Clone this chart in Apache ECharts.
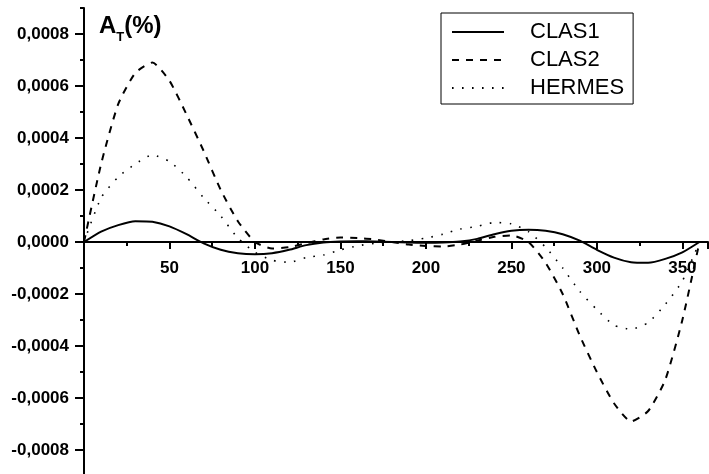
<!DOCTYPE html>
<html>
<head>
<meta charset="utf-8">
<script src="https://cdn.jsdelivr.net/npm/echarts@6/dist/echarts.min.js"></script>
<style>html,body{margin:0;padding:0;background:#fff}#c{width:709px;height:474px}</style>
</head>
<body>
<div id="c"></div>
<script>
var phi = [0,10,20,30,40,50,60,70,80,90,100,110,120,130,140,150,160,170,180,190,200,210,220,230,240,250,260,270,280,290,300,310,320,330,340,350,360];
var clas1 = [0,0.00004,0.000065,0.00008,0.000078,0.00006,0.00003,-0.000005,-0.00003,-0.000043,-0.000047,-0.000043,-0.00003,-0.000012,-0.000002,0.000002,0.000003,0.000002,0,-0.000002,-0.000003,-0.000002,0.000002,0.000012,0.00003,0.000043,0.000047,0.000043,0.00003,0.000005,-0.00003,-0.00006,-0.000078,-0.00008,-0.000065,-0.00004,0];
var clas2 = [0,0.0003,0.00053,0.00065,0.00069,0.00062,0.00049,0.00035,0.0002,0.00008,0.0,-0.000025,-0.00002,-0.000005,0.00001,0.000017,0.000015,0.00001,0,-0.00001,-0.000015,-0.000017,-0.00001,0.000005,0.00002,0.000025,0,-0.00008,-0.0002,-0.00036,-0.0005,-0.00062,-0.00069,-0.00065,-0.00053,-0.0003,0];
var hermes = [0,0.00017,0.00025,0.0003,0.000335,0.00031,0.00025,0.00017,0.0001,0.000015,-0.00004,-0.00007,-0.000078,-0.00006,-0.00005,-0.00003,-0.000015,-0.000005,0,0.000005,0.000015,0.00003,0.00005,0.00006,0.000075,0.00007,0.00004,-0.00002,-0.0001,-0.00019,-0.00026,-0.00032,-0.000335,-0.00031,-0.00024,-0.00015,0];
var seriesNames = ['CLAS1','CLAS2','HERMES'];
var yMajorTicks = [-0.0008,-0.0006,-0.0004,-0.0002,0,0.0002,0.0004,0.0006,0.0008];

function pairs(ys){ return phi.map(function(x,i){ return [x, ys[i]]; }); }
function fmtY(v){
  if (Math.abs(v) < 1e-9) return '0,0000';
  return v.toFixed(4).replace('.', ',');
}

var H = 474;
var gridBottom = -2;
var chart = echarts.init(document.getElementById('c'), null, {renderer:'canvas'});
var fontFam = '"Liberation Sans", Arial, sans-serif';
chart.setOption({
  animation: false,
  backgroundColor: '#fff',
  title: {
    left: 99, top: 8, padding: 0,
    text: '{a|A}{t|T}{a|(%)}',
    textStyle: {
      rich: {
        a: {fontFamily: fontFam, fontWeight: 'bold', fontSize: 24, color: '#000', lineHeight: 26},
        t: {fontFamily: fontFam, fontWeight: 'bold', fontSize: 13, color: '#000', padding: [23,0,0,0]}
      }
    }
  },
  legend: {
    orient: 'vertical',
    left: 441, top: 13,
    padding: [8, 9, 5, 10],
    borderColor: '#000', borderWidth: 1,
    itemWidth: 52, itemHeight: 14, itemGap: 6,
    data: seriesNames,
    itemStyle: {color: 'rgba(0,0,0,0)', borderWidth: 0, opacity: 0},
    textStyle: {fontFamily: fontFam, fontSize: 22, color: '#000', lineHeight: 22, padding: [0,0,0,21]}
  },
  grid: {left: 84, right: 1, top: 8, bottom: gridBottom, containLabel: false, outerBoundsMode: 'none'},
  xAxis: {
    type: 'value', min: 0, max: 365, interval: 50, position: 'bottom', offset: 0,
    axisLine: {onZero: false, lineStyle: {color: '#000', width: 2}},
    axisTick: {show: true, length: 7, lineStyle: {color: '#000', width: 2}},
    minorTick: {show: true, splitNumber: 2, length: 4, lineStyle: {color: '#000', width: 2}},
    splitLine: {show: false},
    axisLabel: {
      margin: 18, color: '#000', fontFamily: fontFam, fontWeight: 'bold', fontSize: 17,
      formatter: function(v){ return v === 0 ? '' : String(v); }
    }
  },
  yAxis: [{
    type: 'value', min: -0.0009, max: 0.0009, interval: 0.0001,
    axisLine: {show: true, onZero: false, lineStyle: {color: '#000', width: 2}},
    axisTick: {show: true, length: 4, lineStyle: {color: '#000', width: 2}},
    splitLine: {show: false},
    axisLabel: {
      margin: 15, color: '#000', fontFamily: fontFam, fontWeight: 'bold', fontSize: 17,
      formatter: function(v){
        var k = Math.round(v * 10000);
        return (k % 2 === 0) ? fmtY(k / 10000) : '';
      }
    }
  }, {
    type: 'value', min: -0.0009, max: 0.0009, position: 'left',
    axisLine: {show: false},
    axisTick: {show: true, length: 9, customValues: yMajorTicks, lineStyle: {color: '#000', width: 2}},
    axisLabel: {show: false},
    splitLine: {show: false}
  }],
  series: [{
    name: seriesNames[0], type: 'line', data: pairs(clas1), symbol: 'none', smooth: 0.2,
    lineStyle: {color: '#000', width: 2, type: 'solid'}, itemStyle: {color: '#000'}
  }, {
    name: seriesNames[1], type: 'line', data: pairs(clas2), symbol: 'none', smooth: 0.2,
    lineStyle: {color: '#000', width: 2, type: [7, 7]}, itemStyle: {color: '#000'}
  }, {
    name: seriesNames[2], type: 'line', data: pairs(hermes), symbol: 'none', smooth: 0.2,
    lineStyle: {color: '#000', width: 1.6, type: [1.6, 8.4]}, itemStyle: {color: '#000'}
  }]
});
// move the x axis up onto the y = 0 line, measured through the y axis scale
var zeroPx = chart.convertToPixel({yAxisIndex: 0}, 0);
chart.setOption({xAxis: {offset: -((H - gridBottom) - zeroPx)}});
</script>
</body>
</html>
